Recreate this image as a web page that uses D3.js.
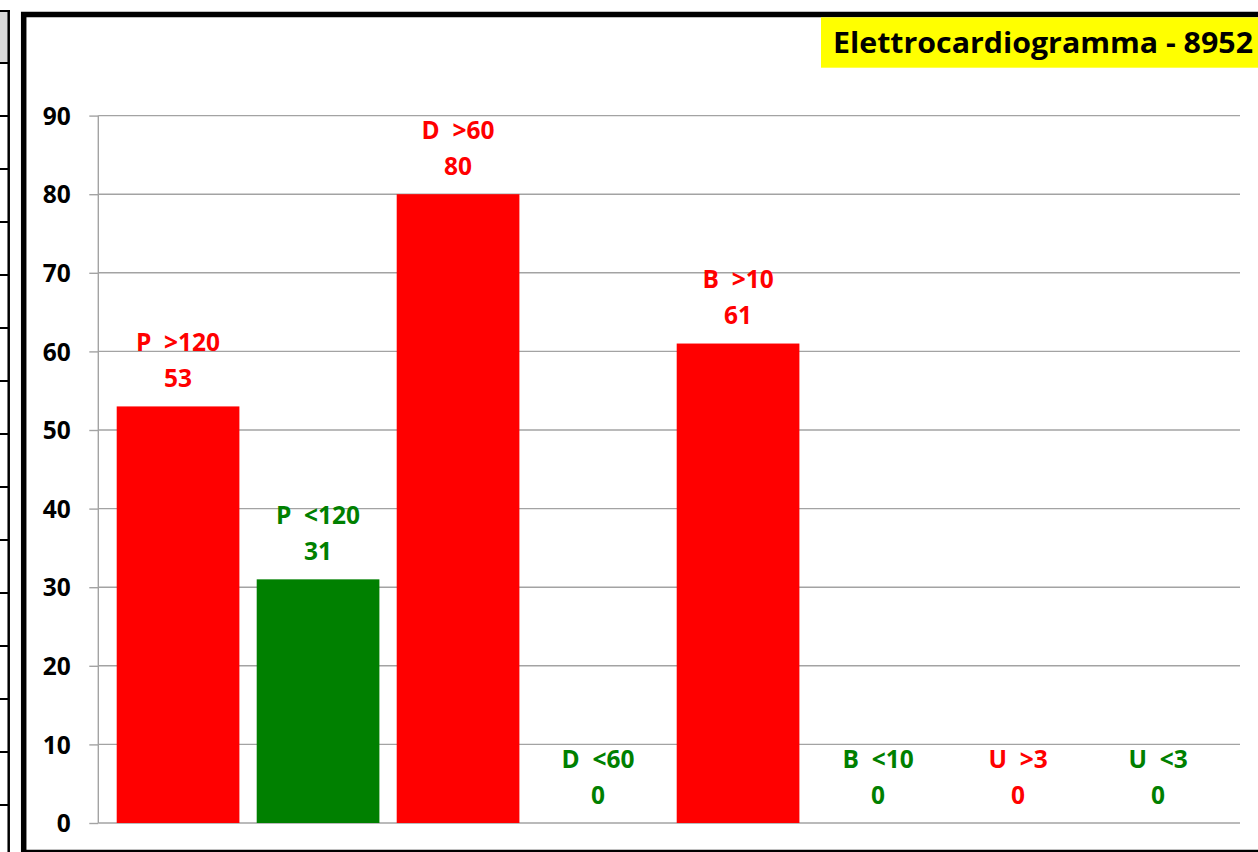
<!DOCTYPE html>
<html>
<head>
<meta charset="utf-8">
<script src="https://cdn.jsdelivr.net/npm/d3@7"></script>
<style>
  html, body { margin: 0; padding: 0; background: #fff; overflow: hidden; }
  svg { display: block; }
  text { font-family: "Open Sans", "Liberation Sans", sans-serif; font-weight: bold; white-space: pre; }
</style>
</head>
<body>
<script>
// ---- data ----
const categories = ["P  >120", "P  <120", "D  >60", "D  <60", "B  >10", "B  <10", "U  >3", "U  <3"];
const values = [53, 31, 80, 0, 61, 0, 0, 0];
const seriesColors = ["#FF0000", "#008000", "#FF0000", "#008000", "#FF0000", "#008000", "#FF0000", "#008000"];
const yTicks = [0, 10, 20, 30, 40, 50, 60, 70, 80, 90];
const title = "Elettrocardiogramma - 8952";

const W = 1258, H = 852;
const svg = d3.select("body").append("svg").attr("width", W).attr("height", H);

// ---- left spreadsheet fragment ----
svg.append("rect").attr("x", 0).attr("y", 11).attr("width", 8).attr("height", 52).attr("fill", "#d9d9d9");
svg.append("line").attr("x1", 0).attr("x2", 10).attr("y1", 11).attr("y2", 11).attr("stroke", "#000").attr("stroke-width", 2);
svg.append("line").attr("x1", 8.7).attr("x2", 8.7).attr("y1", 10).attr("y2", H).attr("stroke", "#000").attr("stroke-width", 2.5);
const rowLines = d3.range(0, 15).map(i => 63 + i * 53);
svg.selectAll("line.row").data(rowLines).join("line").attr("class", "row")
  .attr("x1", 0).attr("x2", 8).attr("y1", d => d).attr("y2", d => d)
  .attr("stroke", "#000").attr("stroke-width", 2);

// ---- chart frame ----
svg.append("rect").attr("x", 23.7).attr("y", 14.5).attr("width", 1300).attr("height", 838)
  .attr("fill", "#fff").attr("stroke", "#000").attr("stroke-width", 5.5);

// ---- title ----
svg.append("rect").attr("x", 821).attr("y", 17.3).attr("width", 450).attr("height", 50.4).attr("fill", "#FFFF00");
svg.append("text").attr("x", 833).attr("y", 53.3).attr("font-size", 29)
  .attr("textLength", 420).attr("lengthAdjust", "spacingAndGlyphs")
  .attr("fill", "#000").text(title);

// ---- scales ----
const y = d3.scaleLinear().domain([0, 90]).range([823, 115.6]);
const x = d3.scaleBand().domain(categories).range([108.05, 1228.05])
  .paddingInner(0.1236).paddingOuter(0.0618);

// gridlines
svg.append("g").selectAll("line").data(yTicks).join("line")
  .attr("x1", 98.3).attr("x2", 1240)
  .attr("y1", d => y(d)).attr("y2", d => y(d))
  .attr("stroke", "#a3a3a3").attr("stroke-width", 1.4);

// y axis
const yAxis = svg.append("g").attr("transform", "translate(98.3,0)")
  .call(d3.axisLeft(y).tickValues(yTicks).tickSize(9).tickPadding(18.5).tickFormat(d3.format("d")));
yAxis.select(".domain").attr("stroke", "#a3a3a3").attr("stroke-width", 1.4).attr("d", `M0,${y(0)}V${y(90)}`);
yAxis.selectAll(".tick line").attr("stroke", "#a3a3a3").attr("stroke-width", 1.4);
yAxis.selectAll(".tick text").attr("font-size", 24.5).attr("fill", "#000")
  .attr("font-family", "'Open Sans', 'Liberation Sans', sans-serif").attr("font-weight", "bold")
  .attr("dy", null).attr("dominant-baseline", null).attr("y", 8.6);

// bars
svg.append("g").selectAll("rect").data(categories).join("rect")
  .attr("x", d => x(d)).attr("width", x.bandwidth())
  .attr("y", (d, i) => y(values[i])).attr("height", (d, i) => y(0) - y(values[i]))
  .attr("fill", (d, i) => seriesColors[i]);

// labels
const lab = svg.append("g").selectAll("g").data(categories).join("g");
lab.append("text")
  .attr("x", d => x(d) + x.bandwidth() / 2)
  .attr("y", (d, i) => y(values[i]) - 55.5)
  .attr("text-anchor", "middle").attr("font-size", 24.5)
  .attr("fill", (d, i) => seriesColors[i]).text(d => d);
lab.append("text")
  .attr("x", d => x(d) + x.bandwidth() / 2)
  .attr("y", (d, i) => y(values[i]) - 19.5)
  .attr("text-anchor", "middle").attr("font-size", 24.5)
  .attr("fill", (d, i) => seriesColors[i]).text((d, i) => values[i]);
</script>
</body>
</html>
